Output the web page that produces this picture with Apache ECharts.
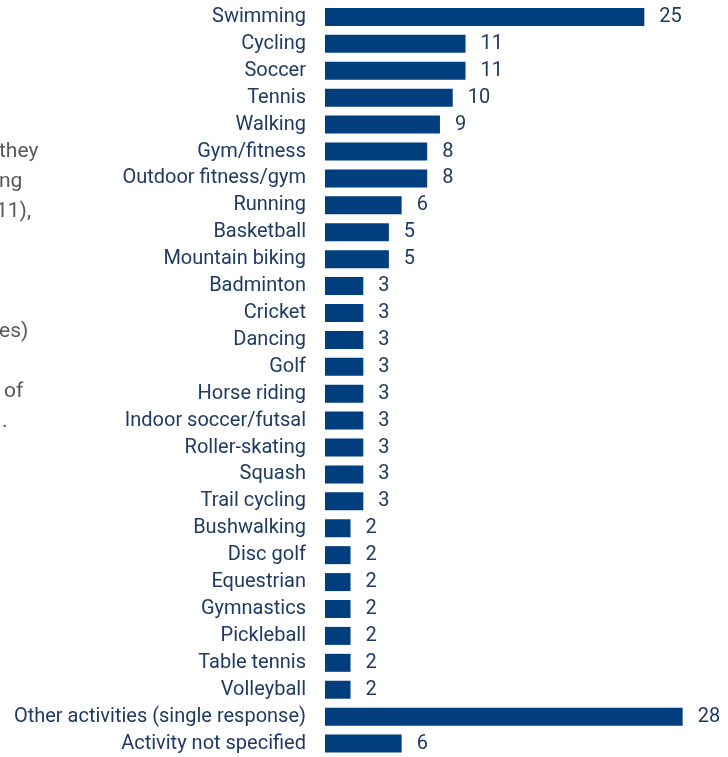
<!DOCTYPE html>
<html>
<head>
<meta charset="utf-8">
<script src="https://cdn.jsdelivr.net/npm/echarts@6/dist/echarts.min.js"></script>
<style>
  html, body { margin: 0; padding: 0; background: #ffffff; }
  #chart { width: 728px; height: 757px; }
</style>
</head>
<body>
<div id="chart"></div>
<script>
// Activities, top to bottom
const activities = [
  'Swimming', 'Cycling', 'Soccer', 'Tennis', 'Walking', 'Gym/fitness',
  'Outdoor fitness/gym', 'Running', 'Basketball', 'Mountain biking',
  'Badminton', 'Cricket', 'Dancing', 'Golf', 'Horse riding',
  'Indoor soccer/futsal', 'Roller-skating', 'Squash', 'Trail cycling',
  'Bushwalking', 'Disc golf', 'Equestrian', 'Gymnastics', 'Pickleball',
  'Table tennis', 'Volleyball', 'Other activities (single response)',
  'Activity not specified'
];
const responses = [
  25, 11, 11, 10, 9, 8,
  8, 6, 5, 5,
  3, 3, 3, 3, 3,
  3, 3, 3, 3,
  2, 2, 2, 2, 2,
  2, 2, 28,
  6
];
// Trailing words of the accompanying paragraph, cut off at the left edge
const sideText = ['they', 'ng', '11),', '', '', '', 'es)', '', 'of', '.'];
const sideOffsets = [-1, -1, -4, 0, 0, 0, -1, 0, 4, 2];

const navy = '#003E7D';
const textNavy = '#1F3A63';
const fontFamily = 'Roboto, "Liberation Sans", sans-serif';

const chart = echarts.init(document.getElementById('chart'));

const sideGraphics = sideText.map((t, i) => ({
  type: 'text',
  x: sideOffsets[i],
  y: 152 + i * 30,
  style: {
    text: t,
    fill: '#595959',
    font: '21px ' + fontFamily,
    verticalAlign: 'middle'
  }
})).filter(g => g.style.text !== '');

chart.setOption({
  animation: false,
  grid: { left: 325, top: 3.5, width: 383.2, height: 755 },
  xAxis: {
    type: 'value', min: 0, max: 30, show: false
  },
  yAxis: {
    type: 'category',
    data: activities,
    inverse: true,
    axisLine: { show: false },
    axisTick: { show: false },
    axisLabel: {
      margin: 19,
      padding: [3, 0, 0, 0],
      color: textNavy,
      fontSize: 20,
      fontFamily: fontFamily
    }
  },
  series: [{
    type: 'bar',
    data: responses,
    barWidth: 18,
    itemStyle: { color: navy },
    label: {
      show: true,
      position: 'right',
      distance: 15,
      padding: [3, 0, 0, 0],
      color: textNavy,
      fontSize: 20,
      fontFamily: fontFamily
    }
  }],
  graphic: sideGraphics
});
</script>
</body>
</html>
